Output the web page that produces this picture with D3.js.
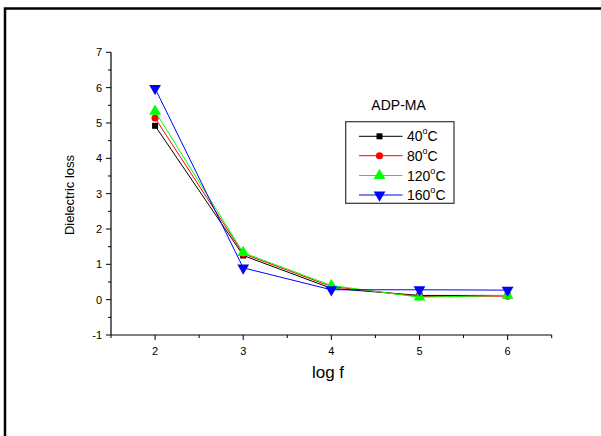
<!DOCTYPE html>
<html><head><meta charset="utf-8">
<script src="https://cdn.jsdelivr.net/npm/d3@7"></script>
<style>body{margin:0;background:#fff}svg{display:block;font-family:Arial,"Liberation Sans",sans-serif}</style>
</head><body>
<svg id="c" width="601" height="436"></svg>
<script>
const xValues = [2, 3, 4, 5, 6];
const seriesNames = ["40", "80", "120", "160"];
const s40 = [4.92, 1.25, 0.32, 0.12, 0.12];
const s80 = [5.14, 1.30, 0.37, 0.09, 0.10];
const s120 = [5.33, 1.33, 0.40, 0.07, 0.12];
const s160 = [5.98, 0.90, 0.28, 0.28, 0.27];
const colors = ["#000000", "#ff0000", "#00ff00", "#0000ff"];
const symbols = ["square", "circle", "triangle", "triangleDown"];
const yTicks = [-1, 0, 1, 2, 3, 4, 5, 6, 7];
const xTicks = [2, 3, 4, 5, 6];
const legendTitle = "ADP-MA";
const xTitle = "log f";
const yTitle = "Dielectric loss";

const series = [s40, s80, s120, s160];
const svg = d3.select("#c");

// outer frame
svg.append("rect").attr("x", 5).attr("y", 8.5).attr("width", 700).attr("height", 500)
  .attr("fill", "none").attr("stroke", "#000").attr("stroke-width", 2.5);

const x = d3.scaleLinear().domain([1.5, 6.5]).range([111, 551.7]);
const y = d3.scaleLinear().domain([-1, 7]).range([335, 52.3]);

// axes
const xAxis = svg.append("g").attr("transform", "translate(0,335)");
xAxis.append("line").attr("x1", x(1.5)).attr("x2", x(6.5)).attr("stroke", "#555").attr("stroke-width", 1.5);
d3.range(1.5, 6.51, 0.5).forEach(v => {
  const major = xTicks.includes(v);
  xAxis.append("line").attr("x1", x(v)).attr("x2", x(v)).attr("y1", 0).attr("y2", major ? 5 : 3)
    .attr("stroke", "#000").attr("stroke-width", 1);
});
xTicks.forEach(v => xAxis.append("text").attr("x", x(v)).attr("y", 20).attr("text-anchor", "middle")
  .attr("font-size", 11).attr("fill", "#000").text(v));

const yAxis = svg.append("g").attr("transform", "translate(111,0)");
yAxis.append("line").attr("y1", y(-1)).attr("y2", y(7)).attr("stroke", "#000").attr("stroke-width", 1.2);
d3.range(-1, 7.01, 0.5).forEach(v => {
  const major = Number.isInteger(v);
  yAxis.append("line").attr("x1", 0).attr("x2", major ? -5 : -3).attr("y1", y(v)).attr("y2", y(v))
    .attr("stroke", "#000").attr("stroke-width", 1);
});
yTicks.forEach(v => yAxis.append("text").attr("x", -9).attr("y", y(v) + 4).attr("text-anchor", "end")
  .attr("font-size", 11).attr("fill", "#000").text(v));

svg.append("text").attr("x", 328).attr("y", 378).attr("text-anchor", "middle")
  .attr("font-size", 17).attr("fill", "#000").text(xTitle);
svg.append("text").attr("transform", "translate(74,195) rotate(-90)").attr("text-anchor", "middle")
  .attr("font-size", 13).attr("fill", "#000").text(yTitle);

const symType = {square: d3.symbolSquare, circle: d3.symbolCircle, triangle: d3.symbolTriangle};
function marker(g, type, cx, cy, color) {
  if (type === "triangleDown") {
    g.append("path").attr("d", d3.symbol(d3.symbolTriangle, 60)())
      .attr("transform", `translate(${cx},${cy}) rotate(180)`).attr("fill", color);
  } else {
    const size = type === "square" ? 36 : type === "circle" ? 40 : 60;
    g.append("path").attr("d", d3.symbol(symType[type], size)())
      .attr("transform", `translate(${cx},${cy})`).attr("fill", color);
  }
}

const line = d3.line().x((d, i) => x(xValues[i])).y(d => y(d));
series.forEach((s, k) => {
  const g = svg.append("g");
  g.append("path").attr("d", line(s)).attr("fill", "none").attr("stroke", colors[k]).attr("stroke-width", 1);
  s.forEach((v, i) => marker(g, symbols[k], x(xValues[i]), y(v), colors[k]));
});

// legend
svg.append("text").attr("x", 398.6).attr("y", 110).attr("text-anchor", "middle")
  .attr("font-size", 14).attr("fill", "#000").text(legendTitle);
svg.append("rect").attr("x", 345.7).attr("y", 121.7).attr("width", 108.3).attr("height", 81.6)
  .attr("fill", "#fff").attr("stroke", "#333").attr("stroke-width", 1.2);
const rowY = [136.3, 155.7, 175.5, 195];
seriesNames.forEach((n, k) => {
  const g = svg.append("g");
  g.append("line").attr("x1", 359).attr("x2", 402.5).attr("y1", rowY[k]).attr("y2", rowY[k])
    .attr("stroke", colors[k]).attr("stroke-width", 1);
  marker(g, symbols[k], 379.5, rowY[k], colors[k]);
  const t = g.append("text").attr("x", 407).attr("y", rowY[k] + 5).attr("font-size", 14).attr("fill", "#000");
  t.append("tspan").text(n);
  t.append("tspan").attr("font-size", 9).attr("dy", -7).text("o");
  t.append("tspan").attr("dy", 7).text("C");
});
</script>
</body></html>
